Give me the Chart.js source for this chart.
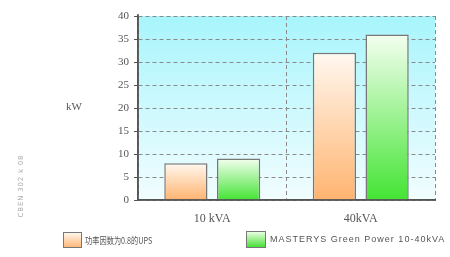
<!DOCTYPE html>
<html><head><meta charset="utf-8">
<script src="https://cdn.jsdelivr.net/npm/chart.js@4"></script>
<style>
html,body{margin:0;padding:0;background:#fff;}
#wrap{position:relative;width:450px;height:257px;}
#c{position:absolute;left:0;top:0;}
.lg{position:absolute;color:#555;white-space:nowrap;}
.box{position:absolute;border:1.5px solid #777;box-sizing:border-box;}
</style></head><body>
<div id="wrap">
<canvas id="c" width="450" height="257"></canvas>
<div class="lg" style="left:66px;top:100px;font:11px 'Liberation Serif',serif;">kW</div>
<div class="lg" style="left:21px;top:186px;width:80px;height:8px;margin-left:-40px;margin-top:-4px;font:7px/8px 'DejaVu Sans',sans-serif;color:#aaa;transform:rotate(-90deg);text-align:center;letter-spacing:0.8px;">CBEN 302 k 08</div>
<div class="box" style="left:63px;top:232px;width:19px;height:16px;background:linear-gradient(#fff6ec,#ffb878);"></div>
<div class="lg" id="l1" style="left:85px;top:232px;font:9.5px 'Noto Sans CJK SC',sans-serif;line-height:16px;transform:scaleX(0.76);transform-origin:0 50%;"></div>
<div class="box" style="left:246px;top:231px;width:20px;height:17px;background:linear-gradient(#e8ffe0,#48e038);"></div>
<div class="lg" id="l2" style="left:270px;top:233px;font:9px 'Liberation Sans',sans-serif;line-height:12px;letter-spacing:1.0px;"></div>
</div>
<script>
const categories = ['10 kVA', '40kVA'];
const seriesNames = ['功率因数为0.8的UPS', 'MASTERYS Green Power 10-40kVA'];
const upsValues = [8, 32];
const masterysValues = [9, 36];
const yTicks = [0, 5, 10, 15, 20, 25, 30, 35, 40];

document.getElementById('l1').textContent = seriesNames[0];
document.getElementById('l2').textContent = seriesNames[1];

function grad(ctx, top, bottom) {
  const ch = ctx.chart; const a = ch.chartArea;
  if (!a || ctx.type !== 'data' || !ch.scales.y) return bottom;
  const yTop = ch.scales.y.getPixelForValue(ctx.raw);
  const yBot = ch.scales.y.getPixelForValue(0);
  const g = ch.ctx.createLinearGradient(0, yTop, 0, yBot);
  g.addColorStop(0, top); g.addColorStop(1, bottom);
  return g;
}
const bgPlugin = {
  id: 'bg',
  beforeDraw(chart) {
    const a = chart.chartArea, c = chart.ctx;
    const g = c.createLinearGradient(0, a.top, 0, a.bottom);
    g.addColorStop(0, '#a8f5fc'); g.addColorStop(1, '#f2fdff');
    c.save(); c.fillStyle = g; c.fillRect(a.left, a.top, a.right - a.left, a.bottom - a.top); c.restore();
  },
  afterDatasetsDraw(chart) {
    const a = chart.chartArea, c = chart.ctx;
    c.save(); c.setLineDash([]); c.strokeStyle = '#555'; c.lineWidth = 1.5;
    c.beginPath();
    c.moveTo(a.left, a.top - 2); c.lineTo(a.left, a.bottom); c.lineTo(a.right + 1, a.bottom);
    c.stroke(); c.restore();
  }
};
new Chart(document.getElementById('c'), {
  type: 'bar',
  data: {
    labels: categories,
    datasets: [
      { label: seriesNames[0], data: upsValues, borderColor: '#777', borderWidth: 1.5,
        backgroundColor: ctx => grad(ctx, '#fff8f0', '#ffb470') },
      { label: seriesNames[1], data: masterysValues, borderColor: '#777', borderWidth: 1.5,
        backgroundColor: ctx => grad(ctx, '#f4fff0', '#44e434') }
    ]
  },
  options: {
    responsive: false, animation: false,
    layout: { padding: { top: 16, right: 15, left: 0, bottom: 0 } },
    plugins: { legend: { display: false }, tooltip: { enabled: false } },
    datasets: { bar: { categoryPercentage: 0.71, barPercentage: 0.82 } },
    scales: {
      x: {
        grid: { offset: true, color: '#8a8a8a', lineWidth: 1, drawTicks: false },
        border: { color: '#555', width: 1.5, dash: [4, 3] },
        ticks: { color: '#555', font: { family: 'Liberation Serif', size: 12 }, padding: 12 },
        afterFit(s) { s.height = 57; }
      },
      y: {
        min: 0, max: 40,
        afterBuildTicks(s) { s.ticks = yTicks.map(v => ({ value: v })); },
        grid: { color: '#8a8a8a', tickColor: '#555', tickLength: 4, lineWidth: 1, tickBorderDash: [] },
        border: { color: '#555', width: 1.5, dash: [4, 3] },
        ticks: { color: '#555', font: { family: 'Liberation Serif', size: 11 }, padding: 5 },
        afterFit(s) { s.width = 138; }
      }
    }
  },
  plugins: [bgPlugin]
});
</script>
</body></html>
